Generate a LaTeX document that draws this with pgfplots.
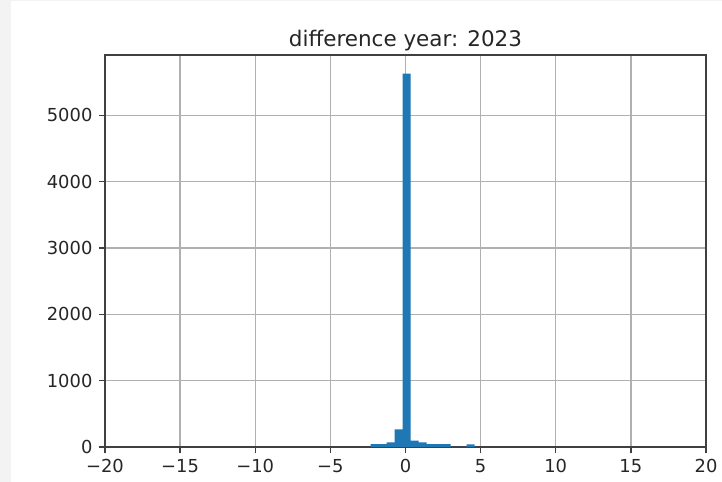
\documentclass[border=0pt]{standalone}
\usepackage{fontspec}
\setmainfont{DejaVu Sans}
\usepackage{pgfplots}
\pgfplotsset{compat=1.18}

\definecolor{barblue}{HTML}{1F77B4}
\definecolor{gridgrey}{HTML}{B0B0B0}
\definecolor{pagegrey}{HTML}{F3F3F3}

% Histogram of yearly differences: bin left edges and counts
% (the last row closes the final bin)
\pgfplotstableread{
edge    count
-2.314  45
-1.782  45
-1.250  70
-0.718  265
-0.186  5628
0.346   95
0.878   70
1.410   45
1.942   45
2.474   45
3.006   0
3.538   0
4.070   40
4.602   40
}\histdata

\begin{document}
\begin{tikzpicture}
  % page frame
  \useasboundingbox (0,0) rectangle (403.4pt,269.3pt);
  \fill[pagegrey] (0,0) rectangle (403.4pt,269.3pt);
  \fill[white] (6.15pt,0) rectangle (403.4pt,268.7pt);
  \begin{axis}[
    at={(58.66pt,19.55pt)}, anchor=south west,
    scale only axis,
    width=335.8pt, height=219.0pt,
    xmin=-20, xmax=20, ymin=0, ymax=5909,
    xtick={-20,-15,...,20},
    xticklabels={−20,−15,−10,−5,0,5,10,15,20},
    ytick={0,1000,...,5000},
    scaled y ticks=false,
    /pgf/number format/assume math mode=true,
    /pgf/number format/1000 sep={},
    tick label style={font=\fontsize{10}{12}\selectfont, text=black!85},
    title={difference year: 2023},
    title style={font=\fontsize{12}{14}\selectfont, text=black!85,
      at={(0.5,1)}, anchor=base, yshift=-1pt},
    grid=major,
    major grid style={gridgrey, line width=0.8pt},
    axis line style={black!75, line width=0.8pt},
    tick align=outside,
    tick pos=left,
    major tick length=3.5pt,
    every tick/.style={black!75, line width=0.8pt},
  ]
    \addplot[ybar interval, fill=barblue, draw=none]
      table[x=edge, y=count] {\histdata};
  \end{axis}
\end{tikzpicture}
\end{document}
